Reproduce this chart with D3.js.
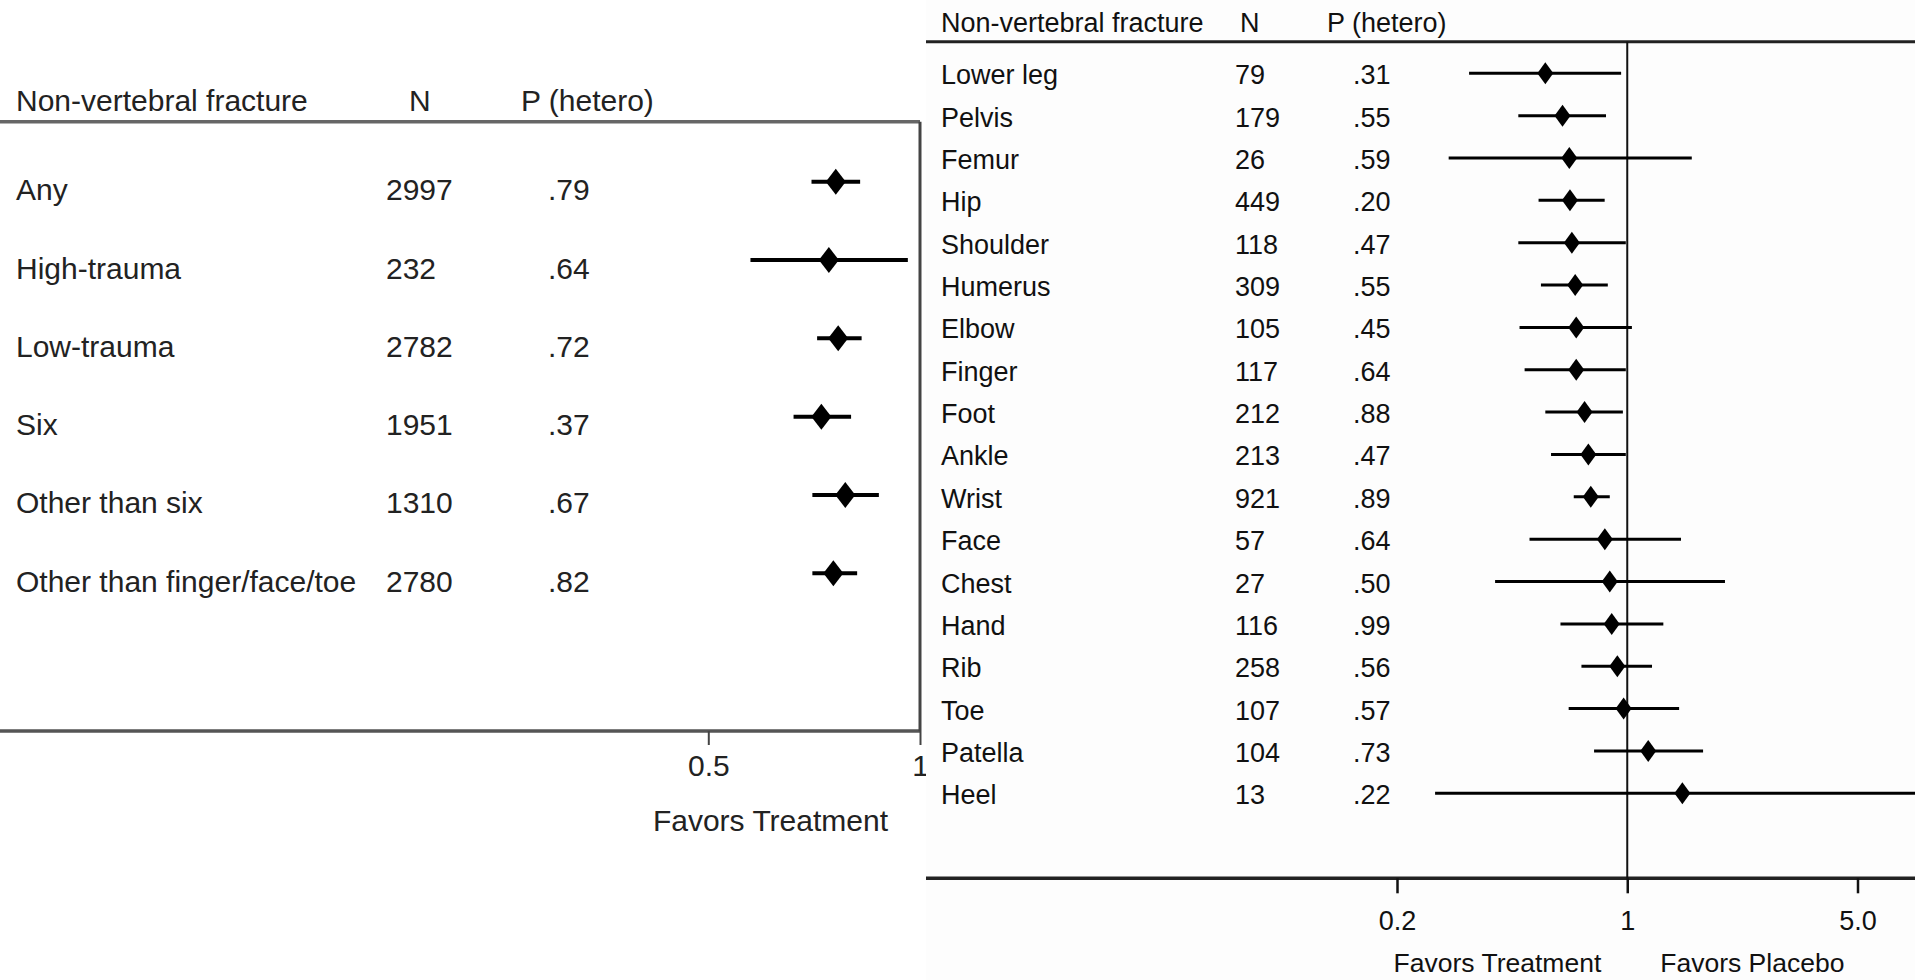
<!DOCTYPE html>
<html>
<head>
<meta charset="utf-8">
<script src="https://cdn.jsdelivr.net/npm/d3@7/dist/d3.min.js"></script>
<style>
  html, body { margin: 0; padding: 0; background: #fff; }
  svg { display: block; }
  text { font-family: "Liberation Sans", Arial, Helvetica, sans-serif; }
</style>
</head>
<body>
<script>
// ---- Left panel: overall non-vertebral fracture groups ----
const leftCategories = ["Any", "High-trauma", "Low-trauma", "Six", "Other than six", "Other than finger/face/toe"];
const leftN = [2997, 232, 2782, 1951, 1310, 2780];
const leftP = [".79", ".64", ".72", ".37", ".67", ".82"];
const leftEst = [0.759, 0.742, 0.765, 0.724, 0.783, 0.753];
const leftLo = [0.701, 0.574, 0.714, 0.661, 0.703, 0.703];
const leftHi = [0.822, 0.961, 0.826, 0.798, 0.874, 0.814];
const leftTicks = [0.5, 1];
const leftTickLabels = ["0.5", "1"];

// ---- Right panel: fracture sites ----
const rightCategories = ["Lower leg", "Pelvis", "Femur", "Hip", "Shoulder", "Humerus", "Elbow", "Finger", "Foot",
  "Ankle", "Wrist", "Face", "Chest", "Hand", "Rib", "Toe", "Patella", "Heel"];
const rightN = [79, 179, 26, 449, 118, 309, 105, 117, 212, 213, 921, 57, 27, 116, 258, 107, 104, 13];
const rightP = [".31", ".55", ".59", ".20", ".47", ".55", ".45", ".64", ".88", ".47", ".89", ".64", ".50", ".99", ".56", ".57", ".73", ".22"];
const rightEst = [0.564, 0.636, 0.667, 0.670, 0.679, 0.695, 0.700, 0.700, 0.742, 0.762, 0.775, 0.855, 0.885, 0.897, 0.933, 0.975, 1.158, 1.47];
const rightLo = [0.331, 0.467, 0.287, 0.538, 0.467, 0.547, 0.471, 0.488, 0.564, 0.587, 0.688, 0.505, 0.397, 0.627, 0.726, 0.664, 0.793, 0.261];
const rightHi = [0.958, 0.862, 1.57, 0.854, 0.99, 0.873, 1.033, 0.99, 0.97, 0.99, 0.885, 1.456, 1.98, 1.287, 1.189, 1.437, 1.699, 8.5];
const rightTicks = [0.2, 1, 5];
const rightTickLabels = ["0.2", "1", "5.0"];

const headers = ["Non-vertebral fracture", "N", "P (hetero)"];

const W = 1915, H = 980;
const svg = d3.select("body").append("svg").attr("width", W).attr("height", H);

// diamond marker centred on the estimate
function diamond(w, h) {
  return `M0,${-h / 2}L${w / 2},0L0,${h / 2}L${-w / 2},0Z`;
}

// ================= LEFT PANEL =================
(function () {
  const L = {
    right: 920, top: 121.7, axisY: 731,
    labelX: 16, nX: 386, pX: 548, nHeadX: 409, pHeadX: 521,
    font: 30, color: "#222"
  };
  const x = d3.scaleLog().domain([0.5, 1]).range([708.3, 920]);
  const y = d3.scalePoint().domain(leftCategories).range([181.7, 573.3]);
  const g = svg.append("g");

  // header
  g.selectAll("text.head").data(headers).join("text")
    .attr("x", (d, i) => [L.labelX, L.nHeadX, L.pHeadX][i])
    .attr("y", 111)
    .attr("font-size", L.font).attr("fill", L.color).text(d => d);
  g.append("line").attr("x1", 0).attr("x2", L.right).attr("y1", L.top).attr("y2", L.top)
    .attr("stroke", "#666").attr("stroke-width", 3.5);

  // bottom axis line and reference line at 1
  g.append("line").attr("x1", 0).attr("x2", L.right).attr("y1", L.axisY).attr("y2", L.axisY)
    .attr("stroke", "#555").attr("stroke-width", 3.5);
  g.append("line").attr("x1", x(1)).attr("x2", x(1)).attr("y1", L.top).attr("y2", L.axisY)
    .attr("stroke", "#444").attr("stroke-width", 3);

  const axis = d3.axisBottom(x).tickValues(leftTicks)
    .tickFormat((d, i) => leftTickLabels[i]).tickSize(14).tickPadding(10);
  const ax = g.append("g").attr("transform", `translate(0,${L.axisY})`).call(axis);
  ax.select(".domain").remove();
  ax.selectAll(".tick line").attr("stroke", "#444").attr("stroke-width", 2);
  ax.selectAll(".tick text").attr("font-size", L.font).attr("fill", L.color)
    .attr("font-family", "'Liberation Sans', Arial, sans-serif");

  g.append("text").attr("x", x(1) - 32).attr("y", 831).attr("text-anchor", "end")
    .attr("font-size", L.font).attr("fill", L.color).text("Favors Treatment");

  // rows
  const rows = g.selectAll("g.row").data(leftCategories).join("g").attr("class", "row");
  rows.append("text").attr("x", L.labelX).attr("y", d => y(d) + 18.5)
    .attr("font-size", L.font).attr("fill", L.color).text(d => d);
  rows.append("text").attr("x", L.nX).attr("y", d => y(d) + 18.5)
    .attr("font-size", L.font).attr("fill", L.color).text((d, i) => leftN[i]);
  rows.append("text").attr("x", L.pX).attr("y", d => y(d) + 18.5)
    .attr("font-size", L.font).attr("fill", L.color).text((d, i) => leftP[i]);
  rows.append("line")
    .attr("x1", (d, i) => x(leftLo[i])).attr("x2", (d, i) => x(leftHi[i]))
    .attr("y1", d => y(d)).attr("y2", d => y(d))
    .attr("stroke", "#000").attr("stroke-width", 4);
  rows.append("path").attr("d", diamond(20, 26))
    .attr("transform", (d, i) => `translate(${x(leftEst[i])},${y(d)})`)
    .attr("fill", "#000");
})();

// ================= RIGHT PANEL =================
(function () {
  const R = {
    left: 926, top: 41.7, axisY: 878.3,
    labelX: 941, nX: 1235, pX: 1353, nHeadX: 1240, pHeadX: 1327,
    font: 27, color: "#111"
  };
  const x = d3.scaleLog().domain([0.2, 5]).range([1397, 1857.5]);
  const y = d3.scalePoint().domain(rightCategories).range([73.3, 793.3]);

  svg.append("defs").append("clipPath").attr("id", "right-clip")
    .append("rect").attr("x", R.left).attr("y", 0).attr("width", W - R.left).attr("height", H);

  const g = svg.append("g").attr("clip-path", "url(#right-clip)");
  g.append("rect").attr("x", R.left).attr("y", 0).attr("width", W - R.left).attr("height", H)
    .attr("fill", "#fdfdfd");

  // header
  g.selectAll("text.head").data(headers).join("text")
    .attr("x", (d, i) => [R.labelX, R.nHeadX, R.pHeadX][i])
    .attr("y", 32.3)
    .attr("font-size", R.font).attr("fill", R.color).text(d => d);
  g.append("line").attr("x1", R.left).attr("x2", W).attr("y1", R.top).attr("y2", R.top)
    .attr("stroke", "#222").attr("stroke-width", 3);

  // axis line, reference line at 1
  g.append("line").attr("x1", R.left).attr("x2", W).attr("y1", R.axisY).attr("y2", R.axisY)
    .attr("stroke", "#222").attr("stroke-width", 3.5);
  g.append("line").attr("x1", x(1)).attr("x2", x(1)).attr("y1", R.top).attr("y2", R.axisY)
    .attr("stroke", "#111").attr("stroke-width", 2);

  const axis = d3.axisBottom(x).tickValues(rightTicks)
    .tickFormat((d, i) => rightTickLabels[i]).tickSize(15).tickPadding(18);
  const ax = g.append("g").attr("transform", `translate(0,${R.axisY})`).call(axis);
  ax.select(".domain").remove();
  ax.selectAll(".tick line").attr("stroke", "#111").attr("stroke-width", 2.5);
  ax.selectAll(".tick text").attr("font-size", R.font).attr("fill", R.color)
    .attr("font-family", "'Liberation Sans', Arial, sans-serif");

  g.append("text").attr("x", x(1) - 26).attr("y", 972).attr("text-anchor", "end")
    .attr("font-size", 26.5).attr("fill", R.color).text("Favors Treatment");
  g.append("text").attr("x", x(1) + 33).attr("y", 972).attr("text-anchor", "start")
    .attr("font-size", 26.5).attr("fill", R.color).text("Favors Placebo");

  // rows
  const rows = g.selectAll("g.row").data(rightCategories).join("g").attr("class", "row");
  rows.append("text").attr("x", R.labelX).attr("y", d => y(d) + 11)
    .attr("font-size", R.font).attr("fill", R.color).text(d => d);
  rows.append("text").attr("x", R.nX).attr("y", d => y(d) + 11)
    .attr("font-size", R.font).attr("fill", R.color).text((d, i) => rightN[i]);
  rows.append("text").attr("x", R.pX).attr("y", d => y(d) + 11)
    .attr("font-size", R.font).attr("fill", R.color).text((d, i) => rightP[i]);
  rows.append("line")
    .attr("x1", (d, i) => x(rightLo[i])).attr("x2", (d, i) => x(rightHi[i]))
    .attr("y1", d => y(d)).attr("y2", d => y(d))
    .attr("stroke", "#000").attr("stroke-width", 3);
  rows.append("path").attr("d", diamond(16, 22))
    .attr("transform", (d, i) => `translate(${x(rightEst[i])},${y(d)})`)
    .attr("fill", "#000");
})();
</script>
</body>
</html>
